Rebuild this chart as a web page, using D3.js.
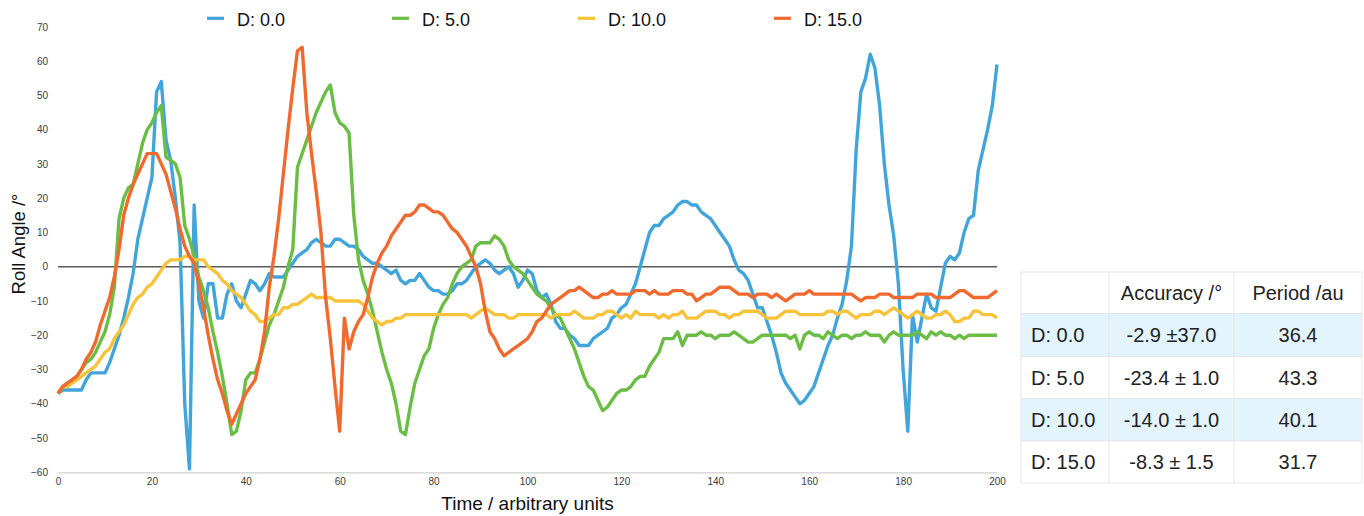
<!DOCTYPE html>
<html>
<head>
<meta charset="utf-8">
<script src="https://cdn.jsdelivr.net/npm/d3@7"></script>
<style>
  html, body { margin: 0; padding: 0; background: #fff; }
  svg { display: block; font-family: "Liberation Sans", Arial, Helvetica, sans-serif; }
</style>
</head>
<body>
<svg id="chart" width="1364" height="516"></svg>
<script>
// ---------- data ----------
const seriesNames = ["D: 0.0", "D: 5.0", "D: 10.0", "D: 15.0"];
const seriesColors = ["#42a5da", "#6cbd45", "#f6c33b", "#f0692f"];

const d0 = [
  -37,-36,-36,-36,-36,-36,-33,-31,-31,-31,
  -31,-28,-24,-20,-15,-9,-2,8,14,20,
  26,51,54,37,31,20,7,-40,-59,18,
  -10,-15,-5,-5,-15,-15,-8,-5,-10,-12,
  -8,-4,-5,-7,-5,-2,-3,-3,-3,-1,
  1,3,4,5,7,8,7,6,6,8,
  8,7,6,6,5,3,2,1,1,0,
  -1,-2,-1,-4,-5,-4,-4,-2,-4,-6,
  -7,-7,-8,-8,-7,-5,-5,-4,-2,0,
  1,2,1,-1,-2,-1,0,-2,-6,-4,
  -1,-2,-7,-9,-8,-11,-16,-18,-18,-20,
  -21,-23,-23,-23,-21,-20,-19,-18,-15,-14,
  -12,-11,-8,-5,0,5,10,12,12,14,
  15,16,18,19,19,18,18,16,15,14,
  12,10,8,6,2,-1,-2,-4,-8,-12,
  -12,-16,-20,-25,-31,-34,-36,-38,-40,-39,
  -37,-35,-31,-27,-23,-20,-15,-11,-4,6,
  34,51,55,62,58,47,30,18,9,-5,
  -30,-48,-14,-22,-15,-8,-12,-13,-6,1,
  3,2,4,10,14,15,28,34,40,47,
  59
];

const d5 = [
  -37,-35,-34,-33,-32,-30,-28,-27,-25,-22,
  -19,-14,-6,14,20,23,24,30,36,40,
  42,45,47,32,31,30,26,12,8,3,
  -3,-7,-12,-19,-25,-32,-40,-49,-48,-42,
  -33,-31,-31,-27,-22,-17,-14,-10,-6,0,
  5,29,33,37,41,45,48,51,53,45,
  42,41,39,15,2,-4,-8,-13,-19,-25,
  -30,-34,-40,-48,-49,-41,-34,-30,-26,-24,
  -18,-14,-11,-9,-5,-2,0,1,2,6,
  7,7,7,9,8,6,2,0,-1,-2,
  -4,-6,-8,-9,-10,-12,-14,-15,-18,-21,
  -24,-28,-32,-35,-36,-39,-42,-41,-39,-37,
  -36,-36,-35,-33,-32,-32,-29,-27,-25,-21,
  -21,-21,-19,-23,-20,-20,-20,-19,-20,-20,
  -21,-20,-20,-20,-19,-20,-21,-22,-22,-21,
  -20,-20,-20,-20,-20,-20,-21,-20,-24,-20,
  -19,-20,-20,-21,-19,-20,-21,-20,-20,-21,
  -20,-20,-19,-20,-20,-20,-22,-20,-19,-20,
  -20,-20,-20,-19,-20,-21,-19,-20,-19,-20,
  -20,-21,-20,-21,-20,-20,-20,-20,-20,-20,
  -20
];

const d10 = [
  -37,-35,-35,-34,-33,-32,-31,-30,-29,-27,
  -25,-24,-21,-19,-17,-14,-11,-9,-8,-6,
  -5,-3,-1,1,2,2,2,3,3,2,
  2,2,0,-1,-2,-4,-5,-7,-8,-9,
  -11,-13,-14,-16,-16,-15,-14,-14,-12,-12,
  -11,-11,-10,-9,-8,-9,-9,-9,-9,-10,
  -10,-10,-10,-10,-10,-11,-13,-15,-16,-17,
  -16,-16,-15,-15,-14,-14,-14,-14,-14,-14,
  -14,-14,-14,-14,-14,-14,-14,-14,-15,-14,
  -13,-12,-13,-14,-14,-14,-15,-15,-14,-14,
  -14,-14,-14,-14,-14,-15,-14,-14,-14,-14,
  -13,-14,-15,-15,-15,-14,-14,-13,-13,-14,
  -15,-14,-15,-13,-14,-14,-14,-14,-15,-14,
  -15,-14,-14,-13,-15,-15,-15,-14,-13,-13,
  -13,-14,-14,-15,-14,-14,-13,-13,-13,-13,
  -14,-15,-15,-15,-14,-13,-13,-13,-14,-14,
  -14,-14,-14,-14,-13,-13,-14,-13,-13,-14,
  -15,-14,-14,-14,-13,-13,-14,-13,-12,-13,
  -14,-15,-14,-13,-14,-15,-15,-14,-14,-13,
  -14,-16,-16,-15,-15,-13,-13,-14,-14,-14,
  -15
];

const d15 = [
  -37,-35,-34,-33,-32,-30,-27,-25,-22,-17,
  -13,-9,-3,5,15,20,24,27,30,33,
  33,33,30,27,22,17,11,6,3,1,
  -5,-12,-20,-27,-33,-37,-42,-46,-43,-40,
  -37,-35,-33,-27,-19,-6,3,14,27,40,
  52,63,64,45,33,22,10,-9,-21,-35,
  -48,-15,-24,-19,-16,-14,-9,-3,1,4,
  6,9,11,13,15,15,16,18,18,17,
  16,16,15,13,11,10,8,6,3,0,
  -5,-13,-19,-21,-24,-26,-25,-24,-23,-22,
  -21,-19,-16,-15,-13,-11,-10,-9,-8,-7,
  -7,-6,-7,-8,-9,-9,-8,-8,-7,-8,
  -8,-8,-8,-7,-7,-7,-8,-7,-8,-8,
  -8,-7,-7,-7,-8,-8,-10,-9,-8,-8,
  -7,-6,-6,-6,-7,-8,-8,-8,-9,-8,
  -8,-8,-9,-8,-9,-10,-9,-8,-8,-8,
  -7,-8,-8,-8,-8,-8,-8,-8,-8,-8,
  -9,-10,-9,-9,-9,-8,-8,-8,-9,-9,
  -9,-9,-9,-8,-8,-8,-8,-9,-9,-9,
  -9,-8,-7,-7,-8,-9,-9,-9,-9,-8,
  -7
];

const xTicks = [0, 20, 40, 60, 80, 100, 120, 140, 160, 180, 200];
const yTicks = [-60, -50, -40, -30, -20, -10, 0, 10, 20, 30, 40, 50, 60, 70];

const tableHeader = ["", "Accuracy /°", "Period /au"];
const tableLabels = ["D: 0.0", "D: 5.0", "D: 10.0", "D: 15.0"];
const tableAccuracy = ["-2.9 ±37.0", "-23.4 ± 1.0", "-14.0 ± 1.0", "-8.3 ± 1.5"];
const tablePeriod = ["36.4", "43.3", "40.1", "31.7"];

// ---------- chart ----------
const svg = d3.select("#chart");
const allSeries = [d0, d5, d10, d15];

const x = d3.scaleLinear().domain([0, 200]).range([58, 997]);
const y = d3.scaleLinear().domain([-60, 70]).range([472.3, 26.8]);

// y axis (labels only)
const yAxis = svg.append("g")
  .attr("transform", "translate(58,0)")
  .call(d3.axisLeft(y).tickValues(yTicks).tickSize(0).tickPadding(10).tickFormat(d3.format("d")));
yAxis.select(".domain").remove();
yAxis.selectAll("text").attr("fill", "#3a3a3a").style("font-size", "10px")
  .style("font-family", "'Liberation Sans', Arial, sans-serif");

// x axis
const xAxis = svg.append("g")
  .attr("transform", "translate(0,472.3)")
  .call(d3.axisBottom(x).tickValues(xTicks).tickSize(0).tickPadding(6).tickFormat(d3.format("d")));
xAxis.select(".domain").attr("stroke", "#cfcfcf").attr("stroke-width", 1.2);
xAxis.selectAll("text").attr("fill", "#3a3a3a").style("font-size", "10px")
  .style("font-family", "'Liberation Sans', Arial, sans-serif");

// zero line
svg.append("line")
  .attr("x1", x(0)).attr("x2", x(200))
  .attr("y1", y(0)).attr("y2", y(0))
  .attr("stroke", "#5a5a5a").attr("stroke-width", 1.4);

// lines
const line = d3.line().x((d, i) => x(i)).y(d => y(d));
allSeries.forEach((s, k) => {
  svg.append("path")
    .datum(s)
    .attr("d", line)
    .attr("fill", "none")
    .attr("stroke", seriesColors[k])
    .attr("stroke-width", 3.4)
    .attr("stroke-linejoin", "round")
    .attr("stroke-linecap", "butt");
});

// axis titles
svg.append("text")
  .attr("transform", "translate(25,244) rotate(-90)")
  .attr("text-anchor", "middle")
  .attr("fill", "#111")
  .style("font-size", "18.5px")
  .text("Roll Angle /°");

svg.append("text")
  .attr("x", 527.5).attr("y", 510)
  .attr("text-anchor", "middle")
  .attr("fill", "#111")
  .style("font-size", "19px")
  .text("Time / arbitrary units");

// legend
const legendX = [207, 392, 578, 774];
const legend = svg.append("g");
seriesNames.forEach((name, k) => {
  legend.append("line")
    .attr("x1", legendX[k]).attr("x2", legendX[k] + 17)
    .attr("y1", 18.3).attr("y2", 18.3)
    .attr("stroke", seriesColors[k]).attr("stroke-width", 3.2);
  legend.append("text")
    .attr("x", legendX[k] + 30).attr("y", 26)
    .attr("fill", "#111")
    .style("font-size", "18px")
    .text(name);
});

// table
const tX = [1021, 1109, 1234, 1362];
const tY = [272, 313.5, 356.5, 398.5, 441, 483];
const tbl = svg.append("g");
tableLabels.forEach((lab, r) => {
  if (r % 2 === 0) {
    tbl.append("rect")
      .attr("x", tX[0]).attr("y", tY[r + 1])
      .attr("width", tX[3] - tX[0]).attr("height", tY[r + 2] - tY[r + 1])
      .attr("fill", "#e3f4fc");
  }
});
// grid lines
tY.forEach(yy => {
  tbl.append("line").attr("x1", tX[0]).attr("x2", tX[3]).attr("y1", yy).attr("y2", yy)
    .attr("stroke", "#e6e6e6").attr("stroke-width", 1);
});
tX.forEach(xx => {
  tbl.append("line").attr("x1", xx).attr("x2", xx).attr("y1", tY[0]).attr("y2", tY[5])
    .attr("stroke", "#e6e6e6").attr("stroke-width", 1);
});
// header
const tFont = "20px";
tableHeader.forEach((h, c) => {
  if (!h) return;
  tbl.append("text")
    .attr("x", (tX[c] + tX[c + 1]) / 2).attr("y", (tY[0] + tY[1]) / 2 + 7)
    .attr("text-anchor", "middle").attr("fill", "#222")
    .style("font-size", tFont).text(h);
});
tableLabels.forEach((lab, r) => {
  const cy = (tY[r + 1] + tY[r + 2]) / 2 + 7;
  tbl.append("text").attr("x", 1031).attr("y", cy).attr("fill", "#222")
    .style("font-size", tFont).text(lab);
  tbl.append("text").attr("x", (tX[1] + tX[2]) / 2).attr("y", cy)
    .attr("text-anchor", "middle").attr("fill", "#222")
    .style("font-size", tFont).text(tableAccuracy[r]);
  tbl.append("text").attr("x", (tX[2] + tX[3]) / 2).attr("y", cy)
    .attr("text-anchor", "middle").attr("fill", "#222")
    .style("font-size", tFont).text(tablePeriod[r]);
});
</script>
</body>
</html>
